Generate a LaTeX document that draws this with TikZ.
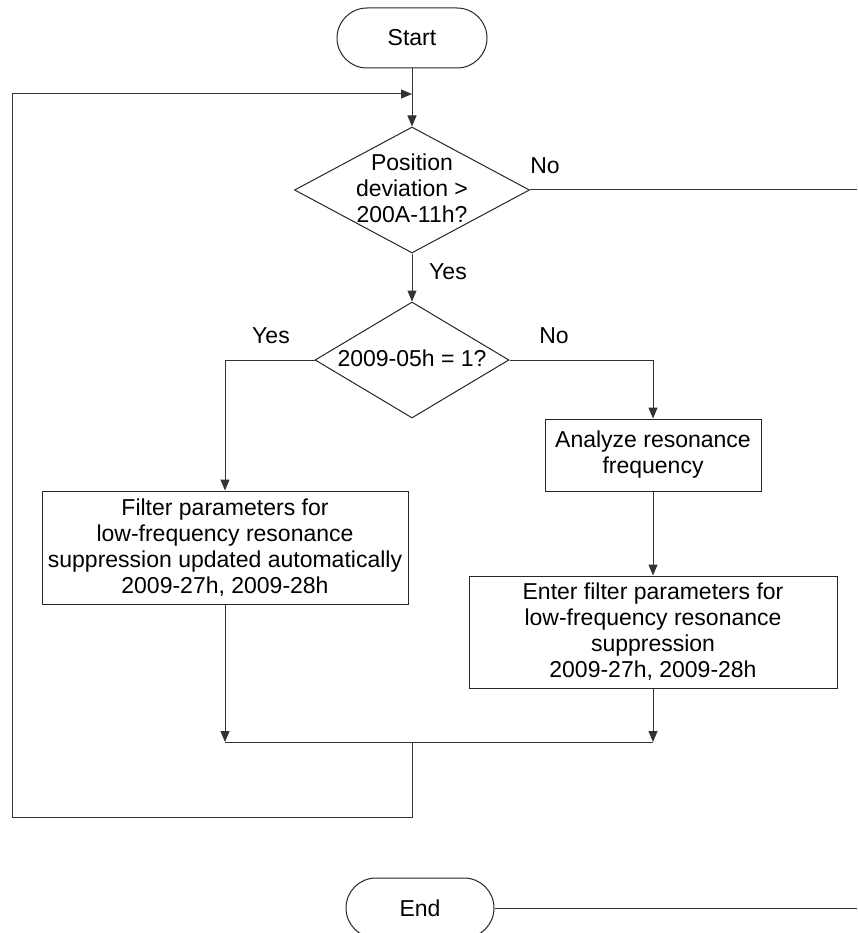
\documentclass[tikz,border=0pt]{standalone}
\usepackage{fontspec}
\setmainfont{Liberation Sans}
\usetikzlibrary{shapes.geometric,arrows.meta}
\begin{document}
\begin{tikzpicture}[x=1pt,y=-1pt,
  font=\fontsize{23}{26}\selectfont,
  conn/.style={draw=black!80, line width=1pt},
  arr/.style={conn, -{Triangle[length=11pt,width=9pt]}},
  term/.style={draw=black!85, line width=1pt, rectangle, rounded corners=30pt, minimum width=150pt, minimum height=60pt, inner sep=0pt},
  proc/.style={draw=black!85, line width=1pt, rectangle, align=center, inner sep=0pt},
  dec/.style={draw=black!85, line width=1pt, diamond, inner sep=0pt},
  lbl/.style={inner sep=0pt, align=center}]
\clip (0,0) rectangle (857,933);
\useasboundingbox (0,0) rectangle (857,933);
\fill[white] (0,0) rectangle (857,933);

% nodes
\node[term] (start) at (412,38) {Start};
\node[dec, minimum width=235pt, minimum height=126pt] (d1) at (412,190) {};
\node[lbl] (d1t) at (412,188) {Position\\deviation >\\200A-11h?};
\node[dec, minimum width=194pt, minimum height=116pt] (d2) at (412,360) {};
\node[lbl] (d2t) at (412,358) {2009-05h = 1?};
\node[proc, minimum width=216pt, minimum height=72pt] (ana) at (653,455) {Analyze resonance\\frequency};
\node[proc, minimum width=368pt, minimum height=112pt] (ent) at (653,632) {Enter filter parameters for\\low-frequency resonance\\suppression\\2009-27h, 2009-28h};
\node[proc, minimum width=366pt, minimum height=113pt] (fil) at (225,547.5) {Filter parameters for\\low-frequency resonance\\suppression updated automatically\\2009-27h, 2009-28h};
\node[term, minimum width=148pt] (end) at (420,908) {End};

% labels
\node[lbl] (no1) at (545,166) {No};
\node[lbl] (yes1) at (448,272) {Yes};
\node[lbl] (yes2) at (271,336) {Yes};
\node[lbl] (no2) at (554,336) {No};

% coordinates
\coordinate (li) at (412,94);
\coordinate (jm) at (412,742);
\coordinate (jl) at (225,742);
\coordinate (jr) at (653,742);
\coordinate (lb) at (12,817);
\coordinate (r1) at (857,190);
\coordinate (r2) at (857,908);

% connectors
\draw[arr] (start.south) -- (d1.north);
\draw[arr] (jm) |- (lb) |- (li);
\draw[conn] (d1.east) -- (r1);
\draw[arr] (d1.south) -- (d2.north);
\draw[arr] (d2.west) -| (fil.north);
\draw[arr] (d2.east) -| (ana.north);
\draw[arr] (ana.south) -- (ent.north);
\draw[arr] (fil.south) -- (jl);
\draw[arr] (ent.south) -- (jr);
\draw[conn] (jl) -- (jr);
\draw[conn] (end.east) -- (r2);
\end{tikzpicture}
\end{document}
